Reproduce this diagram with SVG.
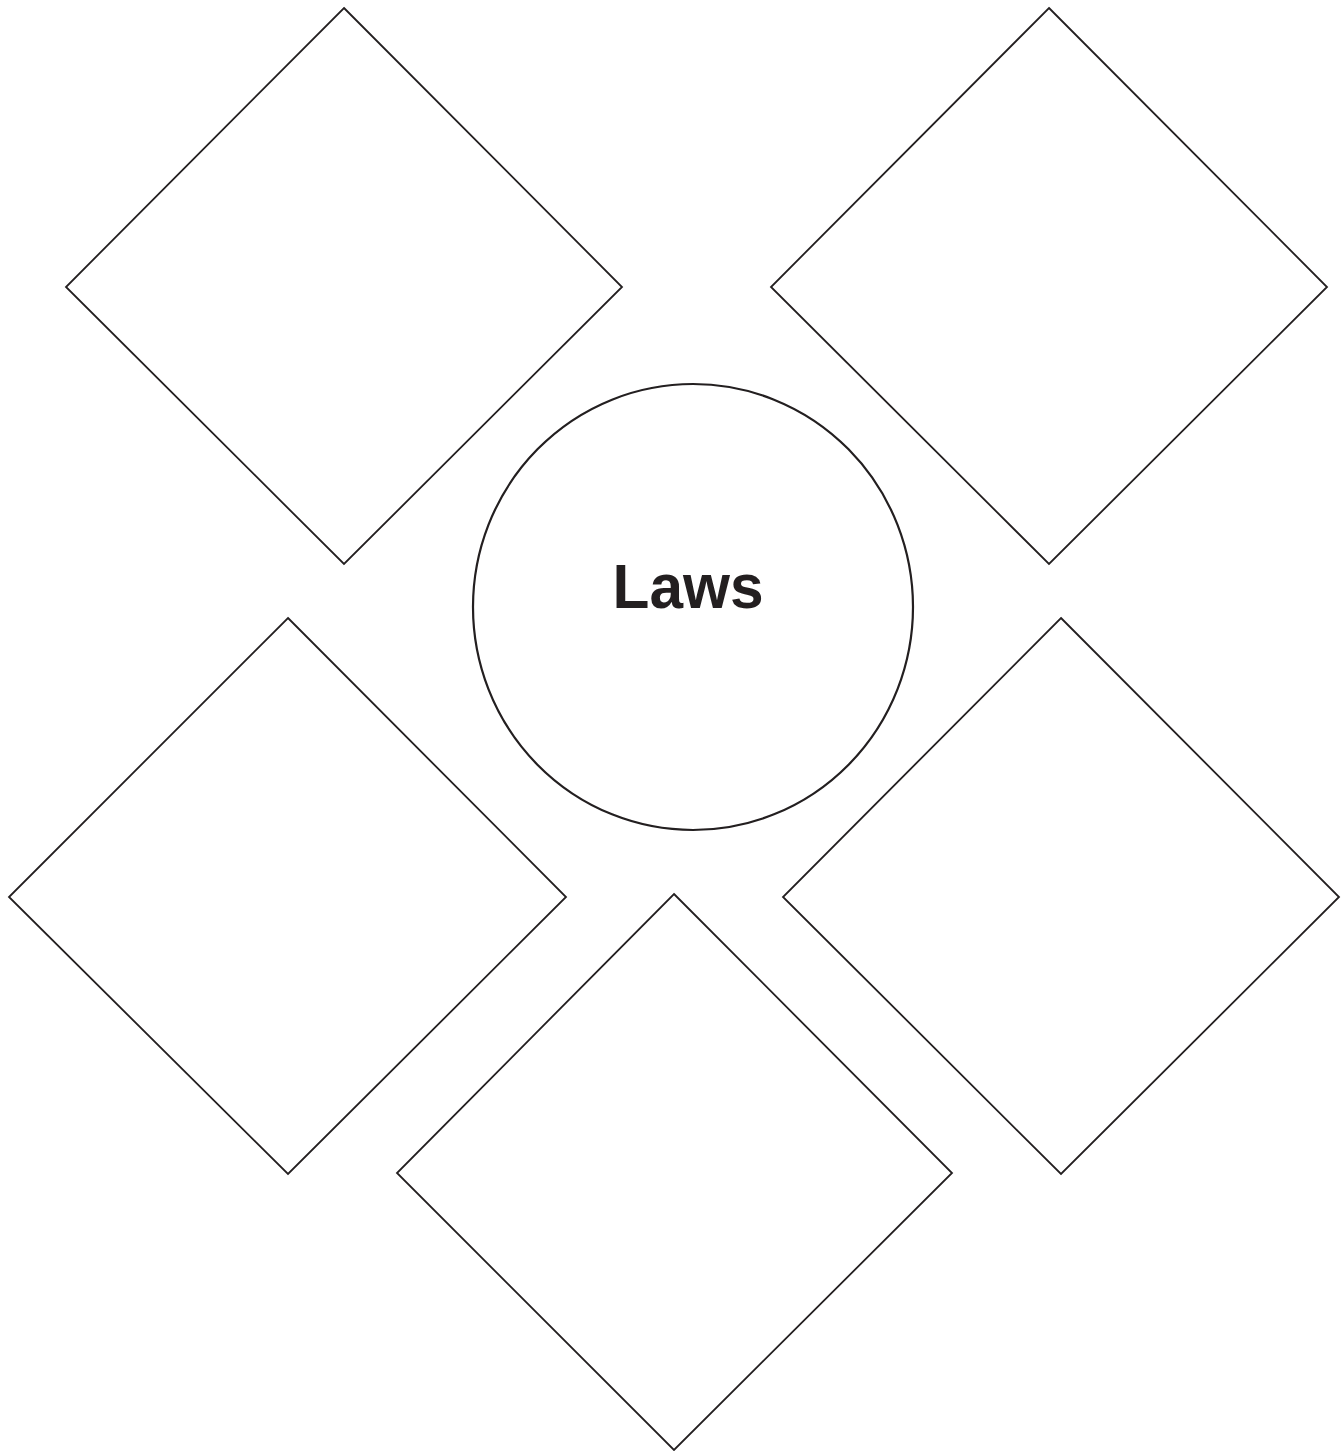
<svg xmlns="http://www.w3.org/2000/svg" width="1344" height="1451" viewBox="0 0 1344 1451">
<style>
.d{fill:#fff;stroke:#231f20;stroke-width:1.8}
.c{fill:#fff;stroke:#231f20;stroke-width:2.2}
.t{font-family:"Liberation Sans",Arial,sans-serif;font-weight:bold;font-size:63px;fill:#231f20}
</style>
<rect width="1344" height="1451" fill="#fff"/>
<g id="connectors"></g>
<g id="diamond-top-left"><polygon class="d" points="344,8 622,287 344,564 66,287"/></g>
<g id="diamond-top-right"><polygon class="d" points="1049,8 1327,287 1049,564 771,287"/></g>
<g id="diamond-mid-left"><polygon class="d" points="288,618 566,897 288,1174 9,897"/></g>
<g id="diamond-mid-right"><polygon class="d" points="1061,618 1339,897 1061,1174 783,897"/></g>
<g id="diamond-bottom"><polygon class="d" points="674,894 952,1173 674,1450 397,1173"/></g>
<g id="laws"><ellipse class="c" cx="693" cy="607" rx="220" ry="223"/><text class="t" x="688" y="608" text-anchor="middle" textLength="151" lengthAdjust="spacingAndGlyphs">Laws</text></g>
</svg>
